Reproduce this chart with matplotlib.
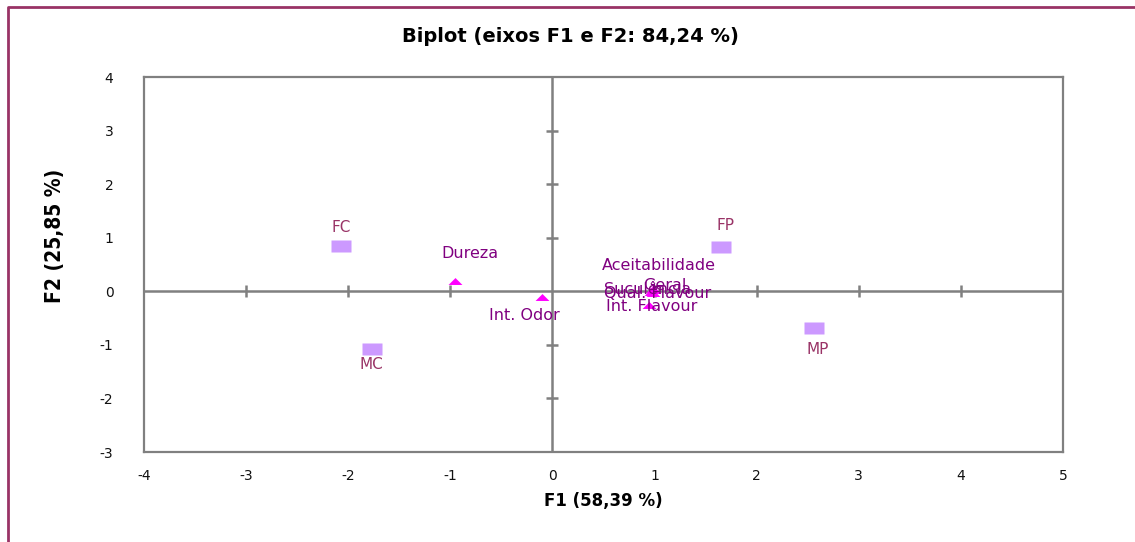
import matplotlib
matplotlib.use("Agg")
import matplotlib.pyplot as plt
from matplotlib.lines import Line2D
import numpy as np

# observations (F1, F2 scores)
obs_names = ["FC", "MC", "FP", "MP"]
obs_f1 = [-2.07, -1.77, 1.65, 2.56]
obs_f2 = [0.84, -1.08, 0.82, -0.69]

# variables (loadings scaled for the biplot)
var_names = ["Dureza", "Int. Odor", "Aceitabilidade", "Geral",
             "Suculência", "Qual. Flavour", "Int. Flavour"]
var_f1 = [-0.95, -0.10, 0.98, 0.99, 0.97, 0.98, 0.95]
var_f2 = [0.19, -0.11, 0.04, 0.02, -0.02, -0.04, -0.26]

xticks = [-4, -3, -2, -1, 0, 1, 2, 3, 4, 5]
yticks = [-3, -2, -1, 0, 1, 2, 3, 4]

# label offsets in pixels
obs_off = [(0, 19), (0, -15), (5, 22), (4, -21)]
var_off = [(14, 28), (-18, -18), (6, 24), (11, 5), (-4, 3), (5, 0), (2, -1)]

OBS_COL = "#993366"
VAR_COL = "#800080"
GRID_COL = "#808080"

fig = plt.figure(figsize=(11.35, 5.42), dpi=100)
ax = fig.add_axes([144 / 1135, 1 - 452 / 542, (1063 - 144) / 1135, (452 - 77) / 542])

ax.set_xlim(-4, 5)
ax.set_ylim(-3, 4)
ax.set_xticks(xticks)
ax.set_yticks(yticks)
ax.set_xticklabels([f"{t}" for t in xticks])
ax.set_yticklabels([f"{t}" for t in yticks])
ax.tick_params(length=0, labelsize=10, colors="#111111")
ax.tick_params(axis="x", pad=12)
ax.tick_params(axis="y", pad=22)
for s in ax.spines.values():
    s.set_color(GRID_COL)
    s.set_linewidth(1.6)

# axes through the origin with their own tick marks
ax.axhline(0, color=GRID_COL, lw=1.8, zorder=1)
ax.axvline(0, color=GRID_COL, lw=1.8, zorder=1)
xt = [t for t in xticks[1:-1] if t != 0]
yt = [t for t in yticks[1:-1] if t != 0]
ax.plot(xt, [0] * len(xt), ls="none", marker="|", ms=8, mew=1.8, color=GRID_COL, zorder=1)
ax.plot([0] * len(yt), yt, ls="none", marker="_", ms=8, mew=1.8, color=GRID_COL, zorder=1)

rect = [(-1, -0.57), (1, -0.57), (1, 0.57), (-1, 0.57)]
tri = [(-1, -0.5), (1, -0.5), (0, 0.5)]

ax.plot(obs_f1, obs_f2, ls="none", marker=rect, ms=15, color="#CC99FF", mec="none", zorder=3)
ax.plot(var_f1, var_f2, ls="none", marker=tri, ms=10, color="#FF00FF", mec="none", zorder=3)

for name, x, y, off in zip(obs_names, obs_f1, obs_f2, obs_off):
    ax.annotate(name, (x, y), xytext=off, textcoords="offset pixels",
                ha="center", va="center", fontsize=11, color=OBS_COL, zorder=4)
for name, x, y, off in zip(var_names, var_f1, var_f2, var_off):
    ax.annotate(name, (x, y), xytext=off, textcoords="offset pixels",
                ha="center", va="center", fontsize=11.5, color=VAR_COL, zorder=4)

fig.text(570 / 1135, 1 - 37 / 542, "Biplot (eixos F1 e F2: 84,24 %)",
         ha="center", va="center", fontsize=14, fontweight="bold", color="black")
fig.text(603 / 1135, 1 - 501 / 542, "F1 (58,39 %)",
         ha="center", va="center", fontsize=12, fontweight="bold", color="black")
fig.text(55 / 1135, 1 - 236 / 542, "F2 (25,85 %)", rotation=90,
         ha="center", va="center", fontsize=15, fontweight="bold", color="black",
         family="DejaVu Sans", fontstretch="condensed")

# outer chart border (top and left edges only)
fig.add_artist(Line2D([8 / 1135, 8 / 1135, 1.01], [-0.01, 1 - 7 / 542, 1 - 7 / 542],
                      transform=fig.transFigure, color="#993366", lw=2))

fig.savefig("out.png", dpi=100)
